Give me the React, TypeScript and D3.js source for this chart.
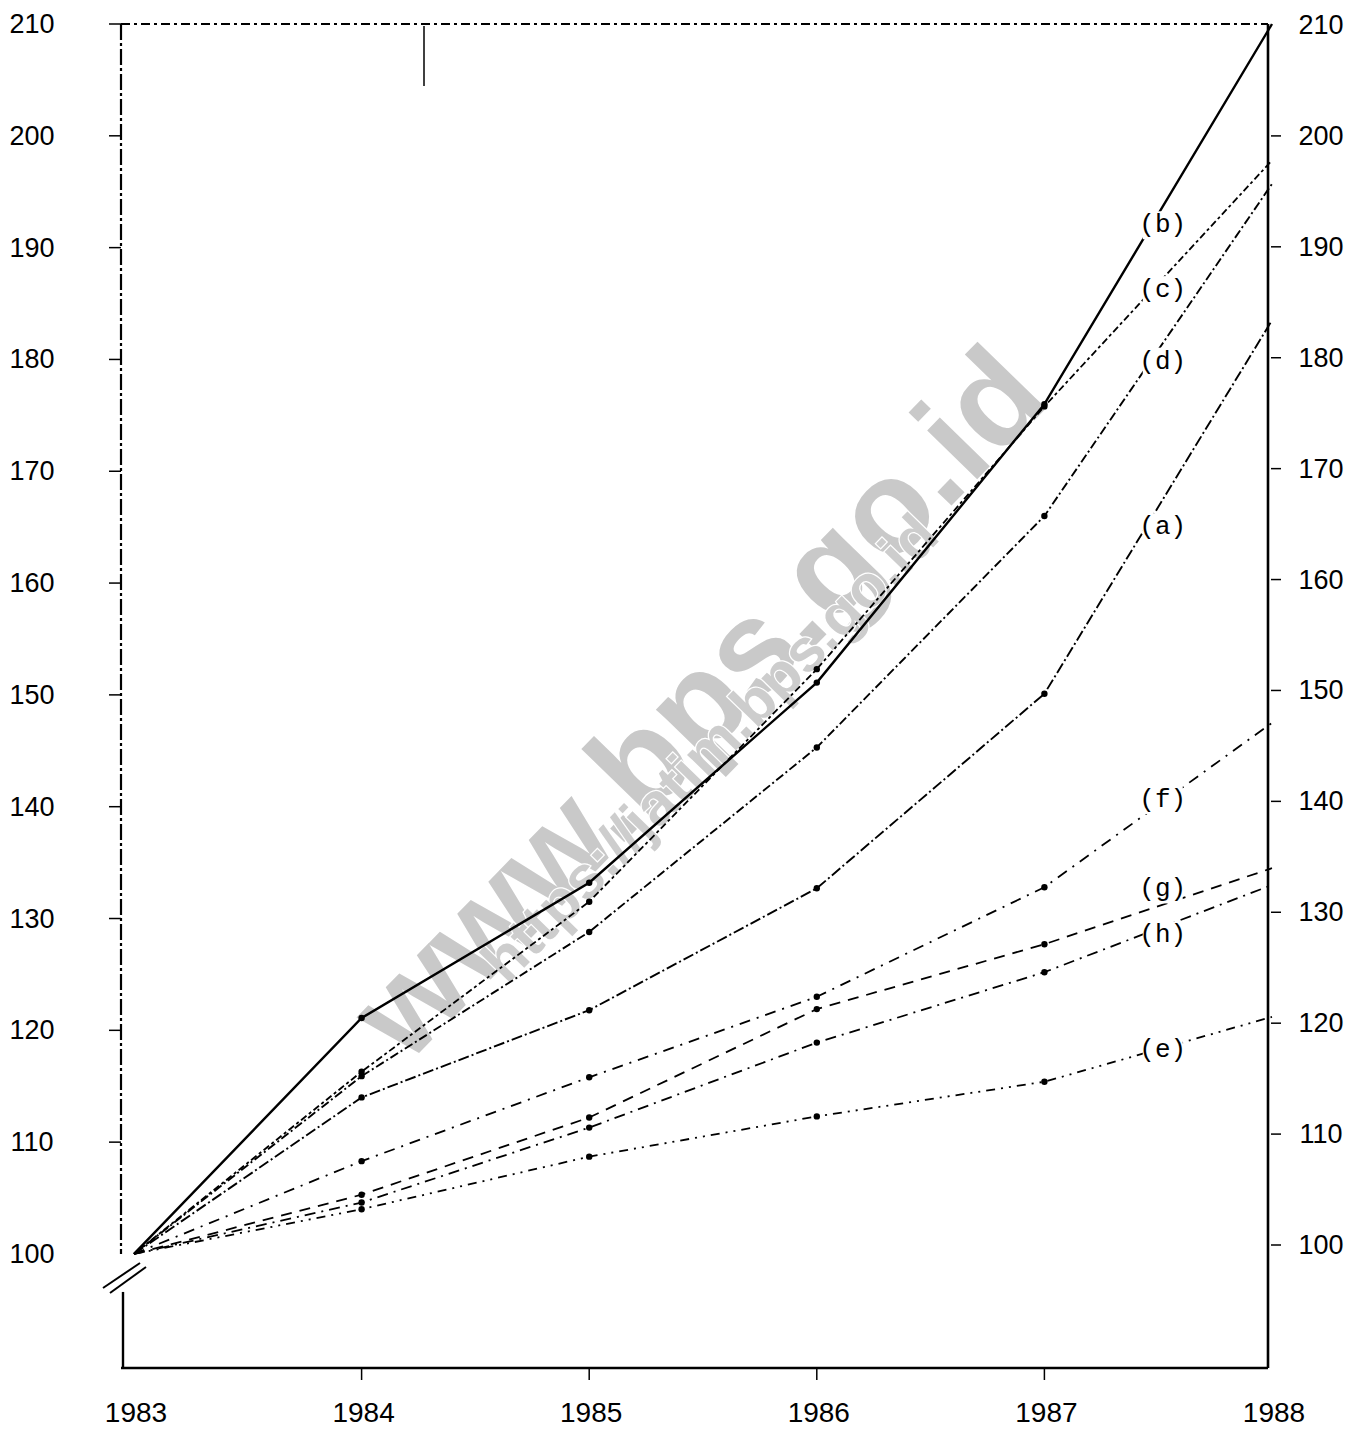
import React, { useEffect, useRef } from 'react'
import * as d3 from 'd3'

// index values, 1983 = 100
const years = [1983, 1984, 1985, 1986, 1987, 1988]
const seriesNames = ['(a)', '(b)', '(c)', '(d)', '(e)', '(f)', '(g)', '(h)']
const seriesA = [100, 114.0, 121.8, 132.7, 150.1, 183.5]
const seriesB = [100, 121.1, 133.2, 151.1, 176.0, 210]
const seriesC = [100, 116.3, 131.5, 152.3, 175.8, 197.8]
const seriesD = [100, 115.9, 128.8, 145.3, 166.0, 195.7]
const seriesE = [100, 104.0, 108.7, 112.3, 115.4, 121.2]
const seriesF = [100, 108.3, 115.8, 123.0, 132.8, 147.5]
const seriesG = [100, 105.3, 112.2, 121.9, 127.7, 134.5]
const seriesH = [100, 104.6, 111.3, 118.9, 125.2, 133.0]
const yTicks = [100, 110, 120, 130, 140, 150, 160, 170, 180, 190, 200, 210]
// where the (a)..(h) tags sit, in chart units
const labelYear = 1987.52
const labelValues = [165.0, 192.0, 186.2, 179.8, 118.2, 140.6, 132.6, 128.5]

const dashes = ['11 3 2 3', null, '3 3 7 3', '9 3 2 3', '9 6 2 6 2 6', '11 7 2 7', '11 8', '11 6 2 6']
const widths = [1.9, 2.4, 1.8, 1.9, 1.8, 1.8, 1.8, 1.8]

export default function App() {
  const ref = useRef<SVGSVGElement>(null)

  useEffect(() => {
    const svg = d3.select(ref.current)
    svg.selectAll('*').remove()

    const allSeries = [seriesA, seriesB, seriesC, seriesD, seriesE, seriesF, seriesG, seriesH]
    const x = d3.scaleLinear().domain([1983, 1988]).range([134, 1272])
    const y = d3.scaleLinear().domain([89.8, 210]).range([1368, 24])
    const yRight = d3.scaleLinear().domain([100, 210]).range([1245, 25])
    const left = 121
    const right = 1268
    const top = y(210)
    const bottom = y(89.8)

    // watermark
    const wm = svg.append('g').attr('transform', 'translate(697,702) rotate(-45.8)')
    wm.append('text')
      .text('www.bps.go.id')
      .attr('text-anchor', 'middle')
      .attr('dominant-baseline', 'central')
      .attr('font-family', 'Liberation Sans, Arial, sans-serif')
      .attr('font-weight', 'bold')
      .attr('font-size', 132)
      .attr('fill', '#c9c9c9')
    wm.append('text')
      .text('https://jatim.bps.go.id')
      .attr('x', -24)
      .attr('y', 41)
      .attr('text-anchor', 'middle')
      .attr('dominant-baseline', 'central')
      .attr('font-family', 'Liberation Sans, Arial, sans-serif')
      .attr('font-weight', 'bold')
      .attr('font-size', 60)
      .attr('fill', '#cdcdcd')
      .attr('stroke', '#fff')
      .attr('stroke-width', 2.5)
      .attr('paint-order', 'stroke')

    // frame
    const frame = svg.append('g').attr('stroke', '#000').attr('fill', 'none')
    frame.append('line').attr('x1', left).attr('x2', right).attr('y1', top).attr('y2', top)
      .attr('stroke-width', 2).attr('stroke-dasharray', '9 4 3 4')
    frame.append('line').attr('x1', right).attr('x2', right).attr('y1', top).attr('y2', bottom)
      .attr('stroke-width', 2.6)
    frame.append('line').attr('x1', left).attr('x2', right).attr('y1', bottom).attr('y2', bottom)
      .attr('stroke-width', 2.6)
    frame.append('line').attr('x1', left).attr('x2', left).attr('y1', top).attr('y2', y(100))
      .attr('stroke-width', 2.2).attr('stroke-dasharray', '16 3 3 3')
    frame.append('line').attr('x1', left + 2).attr('x2', left + 2).attr('y1', y(100) + 38).attr('y2', bottom)
      .attr('stroke-width', 2.4)
    // axis break
    frame.append('line').attr('x1', 103).attr('y1', 1288).attr('x2', 140).attr('y2', 1263).attr('stroke-width', 2)
    frame.append('line').attr('x1', 110).attr('y1', 1293).attr('x2', 146).attr('y2', 1267).attr('stroke-width', 2)
    // stray scan mark near the top
    frame.append('line').attr('x1', 424).attr('x2', 424).attr('y1', 26).attr('y2', 86).attr('stroke-width', 1.5)

    // ticks
    frame.selectAll('.lt').data(yTicks.filter(v => v > 100)).enter().append('line')
      .attr('x1', left - 12).attr('x2', left).attr('y1', d => y(d)).attr('y2', d => y(d))
      .attr('stroke-width', 1.5)
    frame.selectAll('.rt').data(yTicks.filter(v => v < 210)).enter().append('line')
      .attr('x1', right + 3).attr('x2', right + 13).attr('y1', d => yRight(d)).attr('y2', d => yRight(d))
      .attr('stroke-width', 1.5)
    frame.selectAll('.bt').data(years.slice(1, 5)).enter().append('line')
      .attr('x1', d => x(d)).attr('x2', d => x(d)).attr('y1', bottom).attr('y2', bottom + 12)
      .attr('stroke-width', 1.5)

    // tick labels
    const tickFont = 'Liberation Sans, Arial, sans-serif'
    svg.append('g').selectAll('text').data(yTicks).enter().append('text')
      .text(d => d)
      .attr('x', 32).attr('y', d => y(d))
      .attr('text-anchor', 'middle').attr('dominant-baseline', 'central')
      .attr('font-family', tickFont).attr('font-size', 27)
    svg.append('g').selectAll('text').data(yTicks).enter().append('text')
      .text(d => d)
      .attr('x', 1321).attr('y', d => yRight(d))
      .attr('text-anchor', 'middle').attr('dominant-baseline', 'central')
      .attr('font-family', tickFont).attr('font-size', 27)
    svg.append('g').selectAll('text').data(years).enter().append('text')
      .text(d => d)
      .attr('x', d => x(d) + 2).attr('y', 1422)
      .attr('text-anchor', 'middle')
      .attr('font-family', tickFont).attr('font-size', 28)

    // series lines
    const line = d3.line<number>()
      .x((_, i) => x(years[i]))
      .y(d => y(d))
    const lines = svg.append('g').attr('fill', 'none').attr('stroke', '#000')
    allSeries.forEach((s, i) => {
      const p = lines.append('path').attr('d', line(s)).attr('stroke-width', widths[i])
      if (dashes[i]) p.attr('stroke-dasharray', dashes[i])
    })

    // point markers
    const pts = svg.append('g').attr('fill', '#000')
    allSeries.forEach(s => {
      s.slice(1, 5).forEach((v, j) => {
        pts.append('circle').attr('cx', x(years[j + 1])).attr('cy', y(v)).attr('r', 3.2)
      })
    })

    // series tags, each on a white patch that breaks the line
    const tags = svg.append('g').selectAll('g').data(seriesNames).enter().append('g')
      .attr('transform', (_, i) => `translate(${x(labelYear)},${y(labelValues[i])})`)
    tags.append('rect')
      .attr('x', -20).attr('y', -14).attr('width', 40).attr('height', 28)
      .attr('fill', '#fff')
    tags.append('text')
      .text(d => d)
      .attr('text-anchor', 'middle').attr('dominant-baseline', 'central')
      .attr('font-family', 'Liberation Mono, Courier New, monospace')
      .attr('font-size', 26)
      .attr('fill', '#000')
  }, [])

  return (
    <svg
      ref={ref}
      width={1363}
      height={1430}
      style={{ position: 'absolute', left: 0, top: 0, background: '#fff' }}
    />
  )
}
